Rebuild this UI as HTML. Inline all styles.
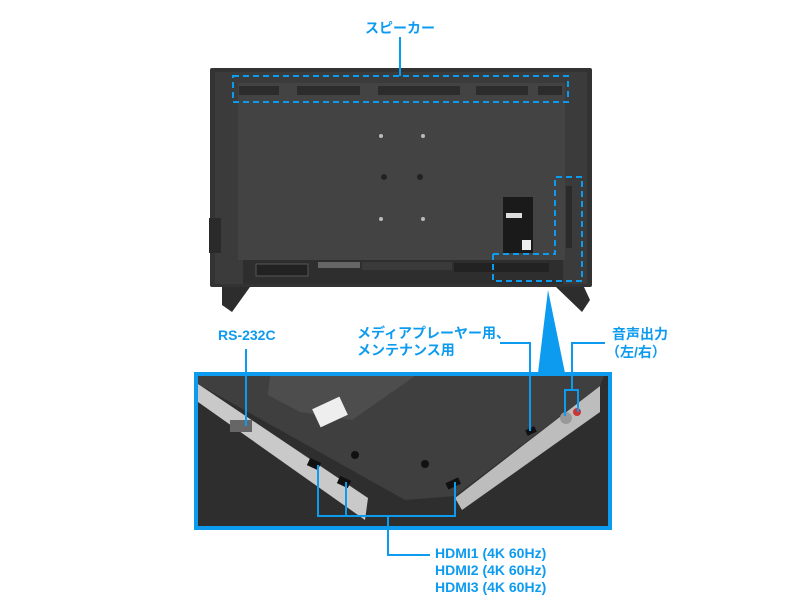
<!DOCTYPE html>
<html><head><meta charset="utf-8"><style>
body{margin:0;width:800px;height:600px;background:#fff;position:relative;overflow:hidden;font-family:"Liberation Sans","Noto Sans CJK JP",sans-serif;}
.t{position:absolute;color:#0d9bf0;font-weight:bold;font-size:14px;line-height:17px;white-space:nowrap;}
svg{position:absolute;left:0;top:0}
</style></head><body>
<svg width="800" height="600" viewBox="0 0 800 600">
<!-- legs -->
<polygon points="222,287 250,287 232,312 222,305" fill="#2d2d2d"/>
<polygon points="556,287 584,287 590,300 582,312" fill="#2d2d2d"/>
<!-- TV frame -->
<rect x="210" y="68" width="382" height="219" fill="#333" rx="2"/>
<rect x="215" y="72" width="372" height="212" fill="#3b3b3b"/>
<rect x="238" y="83" width="327" height="177" fill="#434343"/>
<rect x="209" y="218" width="12" height="35" fill="#2a2a2a"/>
<g fill="#2c2c2c">
<rect x="239" y="86" width="40" height="9"/><rect x="297" y="86" width="63" height="9"/><rect x="378" y="86" width="82" height="9"/><rect x="476" y="86" width="52" height="9"/><rect x="538" y="86" width="24" height="9"/>
</g>
<rect x="243" y="260" width="320" height="24" fill="#2e2e2e"/>
<rect x="256" y="264" width="52" height="12" fill="#222" stroke="#555"/>
<rect x="318" y="262" width="42" height="6" fill="#666"/>
<rect x="362" y="262" width="90" height="8" fill="#3a3a3a"/>
<rect x="454" y="263" width="95" height="9" fill="#222"/>
<g fill="#bbb"><circle cx="381" cy="136" r="2"/><circle cx="423" cy="136" r="2"/><circle cx="381" cy="219" r="2"/><circle cx="423" cy="219" r="2"/></g>
<g fill="#222"><circle cx="384" cy="177" r="3"/><circle cx="420" cy="177" r="3"/></g>
<rect x="503" y="197" width="30" height="56" fill="#1a1a1a"/>
<rect x="506" y="213" width="16" height="5" fill="#ddd"/>
<rect x="522" y="240" width="9" height="10" fill="#eee"/>
<rect x="566" y="186" width="6" height="62" fill="#2a2a2a"/>
<g fill="none" stroke="#0d9bf0" stroke-width="2" stroke-dasharray="6,4">
<rect x="233" y="76" width="335" height="26"/>
<polyline points="493,254 555,254 555,177 582,177 582,281 503,281 493,281 493,254"/>
</g>
<polygon points="548,290 538,373 565,373" fill="#0d9bf0"/>
<!-- inset photo -->
<rect x="194" y="372" width="418" height="158" fill="#0d9bf0"/>
<rect x="198" y="376" width="410" height="150" fill="#2e2e2e"/>
<!-- left silver strip -->
<polygon points="198,384 198,402 365,520 368,498" fill="#c9c9c9"/>
<!-- right silver strip -->
<polygon points="455,498 462,510 600,412 600,386" fill="#bdbdbd"/>
<!-- panel -->
<polygon points="198,376 604,376 600,386 455,496 405,500 198,384" fill="#3f3f3f"/>
<polygon points="270,376 415,376 352,420 300,412 268,395" fill="#4d4d4d"/>
<rect x="315" y="402" width="30" height="20" fill="#eee" transform="rotate(-25 330 412)"/>
<rect x="230" y="420" width="22" height="12" fill="#666"/>
<rect x="308" y="460" width="12" height="8" fill="#111" transform="rotate(25 314 464)"/>
<rect x="338" y="478" width="12" height="8" fill="#111" transform="rotate(25 344 482)"/>
<rect x="446" y="480" width="14" height="7" fill="#111" transform="rotate(-25 453 483)"/>
<rect x="526" y="428" width="10" height="6" fill="#111" transform="rotate(-25 531 431)"/>
<circle cx="566" cy="418" r="6" fill="#999"/><circle cx="577" cy="412" r="4" fill="#c33"/>
<circle cx="355" cy="455" r="4" fill="#111"/><circle cx="425" cy="464" r="4" fill="#111"/>
<g fill="none" stroke="#0d9bf0" stroke-width="2">
<line x1="400" y1="37" x2="400" y2="76"/>
<line x1="246" y1="349" x2="246" y2="426"/>
<polyline points="500,343 530,343 530,431"/>
<polyline points="605,343 572,343 572,390"/>
<polyline points="565,416 565,390 578,390 578,412"/>
<polyline points="318,465 318,516 455,516 455,482"/>
<line x1="346" y1="482" x2="346" y2="516"/>
<polyline points="388,516 388,555 430,555"/>
</g>
</svg>
<div class="t" style="left:365px;top:20px;">スピーカー</div>
<div class="t" style="left:218px;top:327px;">RS-232C</div>
<div class="t" style="left:357px;top:325px;">メディアプレーヤー用、<br>メンテナンス用</div>
<div class="t" style="left:612px;top:326px;">音声出力</div>
<div class="t" style="left:606px;top:344px;">（左/右）</div>
<div class="t" style="left:435px;top:545px;">HDMI1 (4K 60Hz)<br>HDMI2 (4K 60Hz)<br>HDMI3 (4K 60Hz)</div>
</body></html>
